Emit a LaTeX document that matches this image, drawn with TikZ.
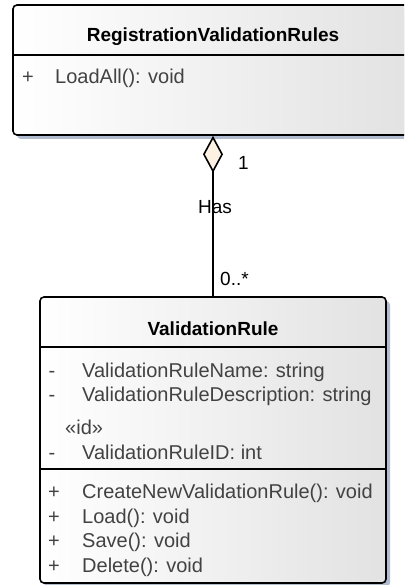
\documentclass[tikz,border=0pt]{standalone}
\usepackage{fontspec}
\setmainfont{Liberation Sans}
\usetikzlibrary{arrows.meta,shadows}
\definecolor{membercol}{RGB}{66,66,66}
\definecolor{shadowcol}{RGB}{178,188,208}
\definecolor{diamondfill}{RGB}{252,241,226}
\definecolor{boxgrey}{RGB}{226,226,226}
\tikzset{
  classbox/.style={draw=black, line width=1.6pt, rounded corners=4pt,
    left color=white, right color=boxgrey,
    general shadow={shadow xshift=4pt, shadow yshift=-4pt, fill=shadowcol},
    inner sep=0pt},
  classtitle/.style={font=\fontsize{19}{23}\selectfont\bfseries, text=black, inner sep=0pt},
  member/.style={font=\fontsize{20}{24}\selectfont, text=membercol, inner sep=0pt, anchor=mid west},
  vismark/.style={font=\fontsize{20}{24}\selectfont, text=membercol, inner sep=0pt, anchor=mid},
  compsep/.style={line width=1.3pt},
  conn/.style={line width=1.8pt},
  lab/.style={font=\fontsize{19}{23}\selectfont, text=black, inner sep=0pt},
}
\begin{document}
\begin{tikzpicture}[x=1pt,y=-1pt]
\useasboundingbox (0,0) rectangle (404,585);
\clip (0,0) rectangle (404,585);

% RegistrationValidationRules
\node[classbox, minimum width=400pt, minimum height=130pt] (rvr) at (213,70) {};
\node[classtitle] (rvrt) at (213,37) {RegistrationValidationRules};
\draw[compsep] (13,55) -- (413,55);
\node[vismark] (rvrv1) at (28,81) {+};
\node[member] (rvrm1) at (55,81) {LoadAll(): void};

% ValidationRule
\node[classbox, minimum width=346pt, minimum height=286pt] (vr) at (213,440) {};
\node[classtitle] (vrt) at (213,329) {ValidationRule};
\draw[compsep] (40,347) -- (386,347);
\draw[compsep] (40,469) -- (386,469);
\node[vismark] (vra1v) at (52,375) {-};
\node[member] (vra1) at (82,375) {ValidationRuleName: string};
\node[vismark] (vra2v) at (52,399) {-};
\node[member] (vra2) at (82,399) {ValidationRuleDescription: string};
\node[member] (vrst) at (65,432) {«id»};
\node[vismark] (vra3v) at (52,457) {-};
\node[member] (vra3) at (82,457) {ValidationRuleID: int};
\node[vismark] (vro1v) at (54,496) {+};
\node[member] (vro1) at (82,496) {CreateNewValidationRule(): void};
\node[vismark] (vro2v) at (54,521) {+};
\node[member] (vro2) at (82,521) {Load(): void};
\node[vismark] (vro3v) at (54,545) {+};
\node[member] (vro3) at (82,545) {Save(): void};
\node[vismark] (vro4v) at (54,570) {+};
\node[member] (vro4) at (82,570) {Delete(): void};

% association
\draw[conn, {Diamond[length=37pt,width=20pt,fill=diamondfill,line width=1.6pt]}-] (rvr.south) -- (vr.north);
\node[lab, anchor=west] (mult1) at (238,163) {1};
\node[lab] (has) at (215,207) {Has};
\node[lab, anchor=west] (mult2) at (220,279) {0..*};
\end{tikzpicture}
\end{document}
